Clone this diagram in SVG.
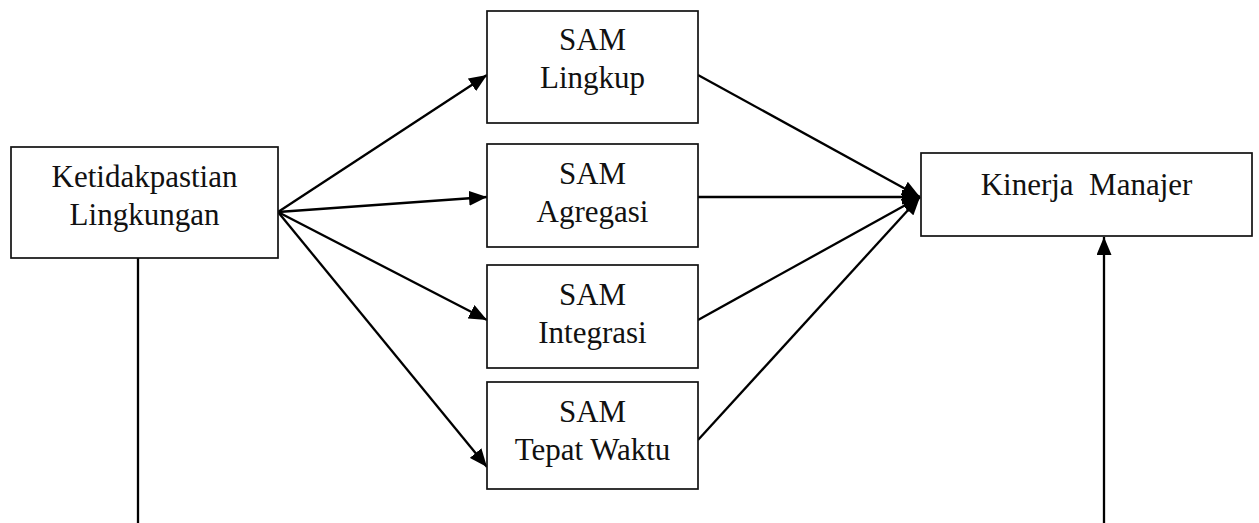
<svg xmlns="http://www.w3.org/2000/svg" width="1259" height="523" viewBox="0 0 1259 523">
  <style>
    .box { fill: #ffffff; stroke: #111111; stroke-width: 1.7; }
    .lbl { font-family: "Liberation Serif", "Times New Roman", serif; font-size: 31px; fill: #111111; text-anchor: middle; white-space: pre; }
    .edge { stroke: #000000; stroke-width: 2.3; fill: none; }
    .arr { marker-end: url(#head); }
  </style>
  <defs>
    <marker id="head" markerUnits="userSpaceOnUse" markerWidth="19" markerHeight="15" refX="18" refY="7.5" orient="auto">
      <path d="M0,0 L18,7.5 L0,15 Z" fill="#000000"/>
    </marker>
  </defs>

  <rect width="1259" height="523" fill="#ffffff"/>

  <g id="connectors">
    <!-- from environmental uncertainty to each SAM dimension -->
    <line class="edge arr" x1="278" y1="212" x2="487" y2="75"/>
    <line class="edge arr" x1="278" y1="212" x2="487" y2="197"/>
    <line class="edge arr" x1="278" y1="212" x2="487" y2="320"/>
    <line class="edge arr" x1="278" y1="212" x2="487" y2="467"/>
    <!-- from each SAM dimension to managerial performance -->
    <line class="edge arr" x1="698" y1="75" x2="920" y2="197"/>
    <line class="edge arr" x1="698" y1="197" x2="920" y2="197"/>
    <line class="edge arr" x1="698" y1="320" x2="920" y2="197"/>
    <line class="edge arr" x1="698" y1="440" x2="920" y2="197"/>
    <!-- direct path running below the diagram -->
    <line class="edge" x1="138" y1="258" x2="138" y2="523"/>
    <line class="edge arr" x1="1104" y1="523" x2="1104" y2="237"/>
  </g>

  <g id="ketidakpastian">
    <rect class="box" x="11" y="147" width="267" height="111"/>
    <text class="lbl" x="144.5" y="187">Ketidakpastian</text>
    <text class="lbl" x="144.5" y="225">Lingkungan</text>
  </g>

  <g id="sam-lingkup">
    <rect class="box" x="487" y="11" width="211" height="112"/>
    <text class="lbl" x="592.5" y="50">SAM</text>
    <text class="lbl" x="592.5" y="88">Lingkup</text>
  </g>

  <g id="sam-agregasi">
    <rect class="box" x="487" y="144" width="211" height="103"/>
    <text class="lbl" x="592.5" y="184">SAM</text>
    <text class="lbl" x="592.5" y="222">Agregasi</text>
  </g>

  <g id="sam-integrasi">
    <rect class="box" x="487" y="265" width="211" height="103"/>
    <text class="lbl" x="592.5" y="305">SAM</text>
    <text class="lbl" x="592.5" y="343">Integrasi</text>
  </g>

  <g id="sam-tepat-waktu">
    <rect class="box" x="487" y="382" width="211" height="107"/>
    <text class="lbl" x="592.5" y="422">SAM</text>
    <text class="lbl" x="592.5" y="460">Tepat Waktu</text>
  </g>

  <g id="kinerja-manajer">
    <rect class="box" x="921" y="153" width="331" height="83"/>
    <text class="lbl" x="1086.5" y="195">Kinerja  Manajer</text>
  </g>
</svg>
